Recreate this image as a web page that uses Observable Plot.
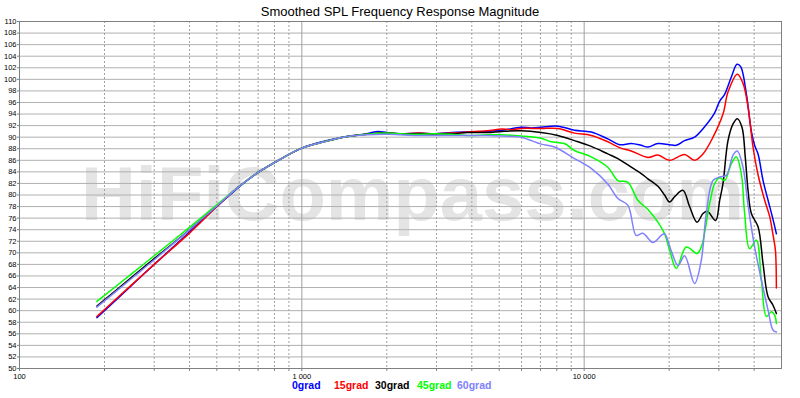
<!DOCTYPE html>
<html>
<head>
<meta charset="utf-8">
<script src="https://cdn.jsdelivr.net/npm/d3@7"></script>
<script src="https://cdn.jsdelivr.net/npm/@observablehq/plot@0.6"></script>
<style>
  html, body { margin: 0; padding: 0; background: #fff; }
  #wrap { position: relative; width: 800px; height: 398px; overflow: hidden; font-family: "Liberation Sans", Arial, sans-serif; }
  #title { position: absolute; left: 0; width: 800px; top: 5px; text-align: center; font-size: 13px; line-height: 13px; color: #000; }
  .leg { position: absolute; top: 381.4px; font-size: 10.5px; line-height: 8px; font-weight: bold; white-space: nowrap; }
  #chart { position: absolute; left: 0; top: 0; }
</style>
</head>
<body>
<div id="wrap">
  <div id="chart"></div>
  <div id="title"></div>
  <div id="legend"></div>
</div>
<script>
// ---- data (frequency in Hz, SPL in dB) ----
const grad0 = [[188,58.8],[250,64.4],[300,68.0],[400,73.6],[500,78.0],[600,81.4],[700,83.9],[800,85.6],[1000,88.1],[1200,89.3],[1400,90.0],[1700,90.6],[1860,91.0],[2000,90.8],[2240,90.6],[2600,90.7],[2950,90.6],[3400,90.8],[3870,90.9],[4530,91.0],[5120,91.2],[5970,91.7],[6500,91.6],[7040,91.7],[8065,91.9],[9240,91.2],[10590,90.9],[12130,89.7],[13340,88.7],[14680,88.9],[15900,88.6],[16820,88.3],[18250,88.9],[20070,88.7],[21200,88.6],[22690,89.4],[24610,90.0],[26710,91.8],[28990,94.2],[30180,96.2],[31440,97.4],[33210,100.4],[34780,102.6],[35840,102.2],[37540,97.5],[39100,91.0],[40200,88.5],[41300,87.1],[43020,82.5],[44810,79.1],[46700,75.7],[47960,73.3]];
const grad15 = [[188,59.0],[250,64.5],[300,68.0],[400,73.4],[500,78.0],[600,81.5],[700,83.9],[800,85.6],[1000,88.1],[1200,89.2],[1400,90.0],[1700,90.5],[2000,90.7],[2240,90.6],[2600,90.7],[2950,90.6],[3400,90.7],[3870,90.9],[4530,91.1],[5120,91.4],[5600,91.3],[5970,91.5],[7040,91.5],[8065,91.5],[9240,90.7],[10590,90.3],[12130,89.2],[13340,88.2],[14680,87.6],[16820,86.5],[18250,86.9],[20070,86.0],[22690,87.0],[24610,86.0],[26360,87.1],[28600,90.0],[31030,94.0],[32320,97.8],[34870,100.9],[36540,99.3],[38060,95.2],[39640,88.3],[41300,83.5],[43590,79.1],[45400,76.3],[46700,73.0],[47570,70.5],[47960,63.9]];
const grad30 = [[188,60.8],[250,65.8],[300,69.0],[400,74.0],[500,78.1],[600,81.5],[700,83.9],[800,85.6],[1000,88.1],[1200,89.2],[1400,90.0],[1700,90.5],[2000,90.7],[2240,90.6],[2600,90.6],[2950,90.6],[3400,90.6],[3870,90.8],[4530,90.8],[5120,91.0],[5970,91.1],[7040,90.8],[8065,90.3],[9240,89.4],[10590,88.4],[12130,87.1],[13170,86.3],[14680,84.8],[15920,83.7],[16820,82.8],[18250,81.5],[19270,80.0],[20070,78.8],[21000,79.8],[22390,80.8],[23630,78.0],[25100,75.3],[26360,76.8],[27300,77.2],[29220,75.6],[30180,79.0],[31030,82.0],[32320,89.4],[33680,92.3],[34870,93.2],[36230,91.7],[37200,86.6],[38060,80.8],[39100,76.8],[41300,74.5],[43020,68.1],[44810,62.4],[46700,60.9],[47960,59.5]];
const grad45 = [[188,61.6],[250,66.4],[300,69.5],[400,74.4],[500,78.3],[600,81.5],[700,83.9],[800,85.6],[1000,88.1],[1200,89.2],[1400,90.0],[1700,90.5],[2000,90.7],[2240,90.6],[2600,90.5],[2950,90.6],[3400,90.5],[3870,90.3],[4530,90.4],[5120,90.4],[5970,90.2],[7040,89.8],[7640,89.2],[8515,88.9],[9240,87.7],[10590,86.6],[12130,84.8],[13170,82.5],[14290,82.2],[15490,79.1],[16820,77.5],[18250,75.3],[19270,73.3],[20070,70.5],[21200,67.3],[23000,71.0],[25100,69.9],[25990,71.0],[27820,78.5],[29000,82.0],[30180,83.0],[31440,82.5],[33210,85.4],[34590,86.6],[36030,83.7],[37020,76.8],[38560,70.7],[40730,72.2],[42430,65.3],[44200,59.0],[46030,59.8],[47310,59.2],[47960,57.8]];
const grad60 = [[188,60.6],[250,65.6],[300,68.8],[400,74.0],[500,78.1],[600,81.5],[700,83.9],[800,85.6],[1000,88.1],[1200,89.2],[1400,90.0],[1700,90.4],[2000,90.5],[2240,90.4],[2600,90.3],[2950,90.3],[3400,90.3],[3870,90.3],[4530,90.3],[5120,90.2],[5970,90.0],[7040,88.8],[7850,88.3],[9240,86.3],[10590,84.6],[12130,81.9],[13170,79.4],[14290,78.2],[15290,73.0],[16140,73.4],[17520,71.8],[18750,73.0],[19270,73.3],[20350,70.3],[21500,67.8],[22690,69.5],[24610,64.7],[25990,68.7],[27070,76.8],[28600,82.5],[30180,83.1],[31880,83.4],[33680,86.9],[34870,87.6],[36540,84.8],[38060,78.2],[40170,71.0],[42430,65.3],[44810,60.1],[46700,56.6],[47960,56.3]];

const seriesNames = ["0grad", "15grad", "30grad", "45grad", "60grad"];
const seriesColors = ["#0000ff", "#ff0000", "#000000", "#00ff00", "#8080ff"];
const seriesData = [grad0, grad15, grad30, grad45, grad60];
const legendLeft = [292, 334, 375, 417, 457];

const yTicks = [50,52,54,56,58,60,62,64,66,68,70,72,74,76,78,80,82,84,86,88,90,92,94,96,98,100,102,104,106,108,110];
const xMinor = [200,300,400,500,600,700,800,900,2000,3000,4000,5000,6000,7000,8000,9000,20000,30000,40000];
const xMajor = [1000, 10000];
const xLabelTicks = [100, 1000, 10000];
const xLabelText = ["100", "1 000", "10 000"];

const titleText = "Smoothed SPL Frequency Response Magnitude";
const watermark = "HiFiCompass.com";

// ---- build ----
const rows = [];
seriesData.forEach((arr, i) => arr.forEach(([f, db]) => rows.push({f, db, s: seriesNames[i]})));

const chart = Plot.plot({
  width: 800,
  height: 398,
  marginTop: 21,
  marginBottom: 30,
  marginLeft: 19,
  marginRight: 19,
  style: {fontFamily: "'Liberation Sans', Arial, sans-serif", fontSize: "7.5px", background: "#fff", color: "#000"},
  x: {type: "log", domain: [100, 50000]},
  y: {domain: [50, 110]},
  color: {domain: seriesNames, range: seriesColors},
  marks: [
    Plot.text([watermark], {frameAnchor: "middle", dx: 12, dy: 1, fontSize: 76, fontWeight: "bold", fontFamily: "'Liberation Sans', Arial, sans-serif", fill: "#e4e4e4", text: d => d}),
    Plot.ruleY(yTicks, {stroke: "#b0b0b0"}),
    Plot.ruleX(xMinor, {stroke: "#a0a0a0", strokeDasharray: "2,2"}),
    Plot.ruleX(xMajor, {stroke: "#a0a0a0"}),
    Plot.axisY(yTicks, {tickSize: 2, tickPadding: 1, stroke: "#808080", tickFormat: d => String(d), fill: "#000", label: null}),
    Plot.axisX(xMinor, {tickSize: 3, stroke: "#808080", tickFormat: () => "", label: null}),
    Plot.axisX(xLabelTicks, {tickSize: 3, tickPadding: 2, stroke: "#808080", tickFormat: d => xLabelText[xLabelTicks.indexOf(d)], fill: "#000", label: null}),
    Plot.line(rows, {x: "f", y: "db", z: "s", stroke: "s", strokeWidth: 1.5, curve: "catmull-rom"}),
    Plot.frame({stroke: "#808080"})
  ]
});
document.getElementById("chart").appendChild(chart);
document.getElementById("title").textContent = titleText;

const legend = document.getElementById("legend");
seriesNames.forEach((n, i) => {
  const s = document.createElement("span");
  s.className = "leg";
  s.style.left = legendLeft[i] + "px";
  s.style.color = seriesColors[i];
  s.textContent = n;
  legend.appendChild(s);
});
</script>
</body>
</html>
